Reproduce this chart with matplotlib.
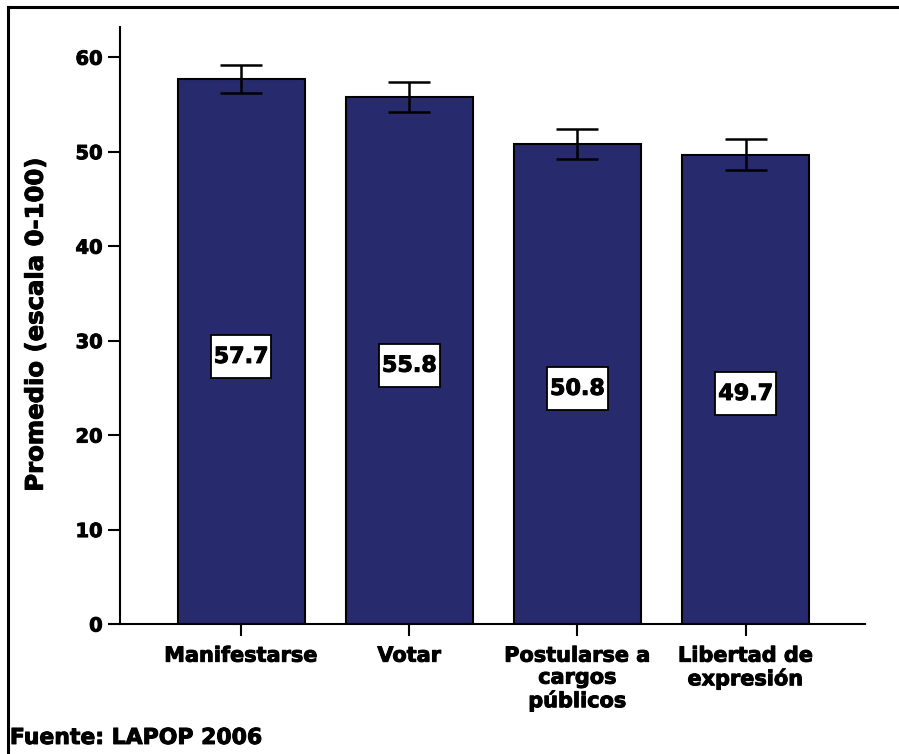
import matplotlib
matplotlib.use("Agg")
import matplotlib.pyplot as plt
import matplotlib.patheffects as pe
from matplotlib.lines import Line2D
from matplotlib.patches import Rectangle
import numpy as np

# datos
categorias = ["Manifestarse", "Votar", "Postularse a\ncargos\npúblicos", "Libertad de\nexpresión"]
promedios = [57.7, 55.8, 50.8, 49.7]
error_inf = [1.5, 1.6, 1.55, 1.6]
error_sup = [1.5, 1.6, 1.55, 1.6]
yticks = [0, 10, 20, 30, 40, 50, 60]

plt.rcParams['font.family'] = ['DejaVu Sans']
plt.rcParams['font.weight'] = 'bold'

grueso = [pe.withStroke(linewidth=0.7, foreground='black')]

fig = plt.figure(figsize=(8.99, 7.54), dpi=100)
ax = fig.add_axes([0.1335, 0.1724, 0.8287, 0.7918])

x = np.arange(len(categorias))
ancho = 0.756
ax.bar(x, promedios, width=ancho, color='#282a6e', edgecolor='black', linewidth=1.5, zorder=2)
ax.errorbar(x, promedios, yerr=[error_inf, error_sup], fmt='none', ecolor='black',
            elinewidth=1.8, capsize=15, capthick=1.8, zorder=3)

# etiquetas de valor en cajas blancas
caja_w, caja_h = 0.36, 4.55
for xi, v in zip(x, promedios):
    yc = v * 0.49
    ax.add_patch(Rectangle((xi - caja_w / 2, yc - caja_h / 2), caja_w, caja_h,
                           facecolor='white', edgecolor='black', linewidth=1.3, zorder=4))
    ax.text(xi, yc, f"{v:.1f}", ha='center', va='center', fontsize=16, fontweight='bold',
            zorder=5, path_effects=grueso)

ax.set_xlim(-0.72, 3.71)
ax.set_ylim(0, 63.2)
ax.set_yticks(yticks)
ax.set_xticks(x)
ax.set_xticklabels(categorias, fontsize=15, fontweight='bold', linespacing=1.12)
ax.tick_params(axis='y', labelsize=14, length=8.6, width=1.5, pad=4)
ax.tick_params(axis='x', length=8.6, width=1.5, pad=7)
for lab in ax.get_yticklabels() + ax.get_xticklabels():
    lab.set_fontweight('bold')
    lab.set_path_effects(grueso)

ax.spines['top'].set_visible(False)
ax.spines['right'].set_visible(False)
ax.spines['left'].set_linewidth(1.5)
ax.spines['bottom'].set_linewidth(1.5)

ax.set_ylabel("Promedio (escala 0-100)", fontsize=17.5, fontweight='bold', labelpad=20,
              path_effects=grueso)

# marco exterior (solo arriba e izquierda)
fig.add_artist(Line2D([0.0089, 0.0089], [0, 0.9907], transform=fig.transFigure, color='black', linewidth=2.2))
fig.add_artist(Line2D([0.0089, 1.0], [0.9907, 0.9907], transform=fig.transFigure, color='black', linewidth=2.2))

fig.text(0.011, 0.008, "Fuente: LAPOP 2006", fontsize=15.8, fontweight='bold', ha='left', va='bottom',
         path_effects=grueso)

fig.savefig("out.png", dpi=100)
